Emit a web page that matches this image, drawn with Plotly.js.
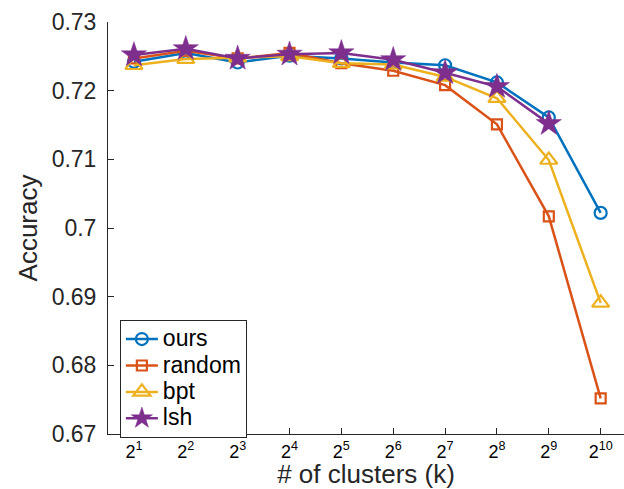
<!DOCTYPE html>
<html>
<head>
<meta charset="utf-8">
<script src="https://cdn.plot.ly/plotly-3.0.1.min.js"></script>
<style>html,body{margin:0;padding:0;background:#fff;}#chart{width:624px;height:489px;}</style>
</head>
<body>
<div id="chart"></div>
<script>
// Exponents of cluster count k = 2^e
var exponents = [1, 2, 3, 4, 5, 6, 7, 8, 9, 10];
var xTickText = ["2<sup>1</sup>", "2<sup>2</sup>", "2<sup>3</sup>", "2<sup>4</sup>", "2<sup>5</sup>",
                 "2<sup>6</sup>", "2<sup>7</sup>", "2<sup>8</sup>", "2<sup>9</sup>", "2<sup>10</sup>"];
var yTickVals = [0.67, 0.68, 0.69, 0.70, 0.71, 0.72, 0.73];
var yTickText = ["0.67", "0.68", "0.69", "0.7", "0.71", "0.72", "0.73"];

var ours   = [0.7242, 0.7255, 0.7241, 0.7251, 0.7247, 0.7241, 0.7237, 0.7212, 0.7161, 0.7022];
var random = [0.7247, 0.7258, 0.7247, 0.7255, 0.7240, 0.7229, 0.7208, 0.7151, 0.7017, 0.6752];
var bpt    = [0.7237, 0.7246, 0.7248, 0.7250, 0.7240, 0.7238, 0.7220, 0.7189, 0.7099, 0.6891];
var lsh    = [0.7252, 0.7261, 0.7247, 0.7253, 0.7255, 0.7245, 0.7226, 0.7206, 0.7152];

var seriesNames = ["ours", "random", "bpt", "lsh"];
var colors = ["#0072BD", "#D95319", "#EDB120", "#7E2F8E"];

var FONT = "Liberation Sans, Arial, Helvetica, sans-serif";
var TXT = "#262626";

function legendName(s) { return '<span style="font-size:23px">' + s + '</span>'; }

var traces = [
  {x: exponents, y: ours, name: legendName(seriesNames[0]), type: "scatter", mode: "lines+markers",
   line: {color: colors[0], width: 2.5},
   marker: {symbol: "circle-open", size: 12, color: colors[0], line: {width: 2.2, color: colors[0]}}},
  {x: exponents, y: random, name: legendName(seriesNames[1]), type: "scatter", mode: "lines+markers",
   line: {color: colors[1], width: 2.5},
   marker: {symbol: "square-open", size: 10, color: colors[1], line: {width: 2.2, color: colors[1]}}},
  {x: exponents, y: bpt, name: legendName(seriesNames[2]), type: "scatter", mode: "lines+markers",
   line: {color: colors[2], width: 2.5},
   marker: {symbol: "triangle-up-open", size: 15, color: colors[2], line: {width: 2.2, color: colors[2]}}},
  {x: exponents.slice(0, lsh.length), y: lsh, name: legendName(seriesNames[3]), type: "scatter", mode: "lines+markers",
   line: {color: colors[3], width: 2.5},
   marker: {symbol: "star", size: 19, color: colors[3], line: {width: 0.5, color: colors[3]}}}
];

var layout = {
  width: 624, height: 489,
  margin: {l: 108, r: 0, t: 22, b: 55, pad: 0},
  paper_bgcolor: "#fff", plot_bgcolor: "#fff",
  font: {family: FONT, color: TXT},
  showlegend: true,
  legend: {
    x: 0.023, y: 0.277, xanchor: "left", yanchor: "top",
    bgcolor: "#fff", bordercolor: TXT, borderwidth: 1,
    font: {family: FONT, size: 18, color: "#000"},
    tracegroupgap: 0, itemwidth: 32
  },
  xaxis: {
    range: [0.5, 10.45], tickmode: "array", tickvals: exponents, ticktext: xTickText,
    ticks: "inside", ticklen: 6, tickcolor: TXT, tickwidth: 1,
    showline: true, linecolor: TXT, linewidth: 1, mirror: false,
    showgrid: false, zeroline: false,
    tickfont: {family: FONT, size: 18, color: "#000"},
    ticklabelstandoff: 1,
    title: {text: "# of clusters (k)", font: {family: FONT, size: 26, color: TXT}, standoff: 0}
  },
  yaxis: {
    range: [0.67, 0.73], tickmode: "array", tickvals: yTickVals, ticktext: yTickText,
    ticks: "inside", ticklen: 6, tickcolor: TXT, tickwidth: 1,
    showline: true, linecolor: TXT, linewidth: 1, mirror: false,
    showgrid: false, zeroline: false,
    tickfont: {family: FONT, size: 23, color: TXT},
    ticklabelstandoff: 6,
    title: {text: "Accuracy", font: {family: FONT, size: 26, color: TXT}, standoff: 6}
  }
};

Plotly.newPlot("chart", traces, layout, {displayModeBar: false, staticPlot: true});
</script>
</body>
</html>
